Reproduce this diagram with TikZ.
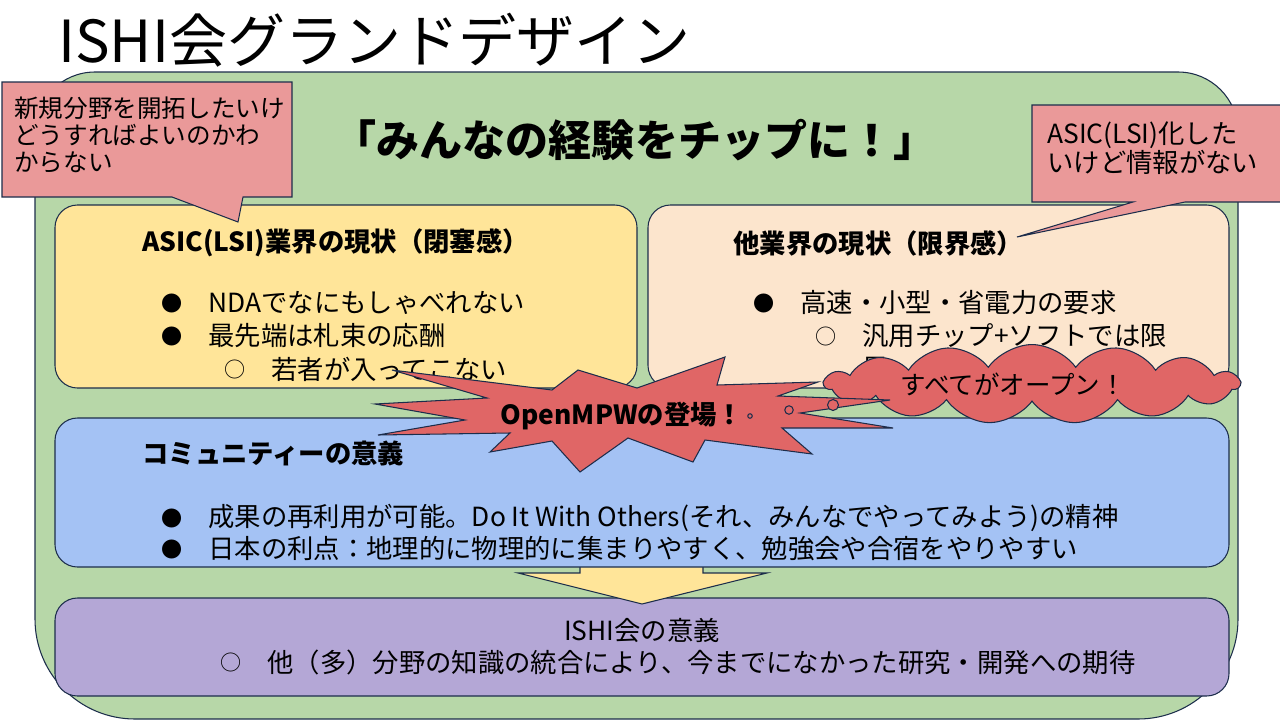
\documentclass[tikz,border=0pt]{standalone}
\usepackage{fontspec}
\setmainfont{Noto Sans CJK JP}
\usetikzlibrary{shapes.symbols,positioning}
\definecolor{slidegreen}{RGB}{183,215,168}
\definecolor{sunyellow}{RGB}{255,229,153}
\definecolor{peach}{RGB}{252,229,205}
\definecolor{skyblue}{RGB}{164,194,244}
\definecolor{lavender}{RGB}{180,167,214}
\definecolor{pinkred}{RGB}{234,153,153}
\definecolor{blastred}{RGB}{224,102,102}
\definecolor{navyline}{RGB}{28,45,75}
\newcommand{\bodysize}{\fontsize{15}{18}\selectfont}
\newcommand{\itemrow}[5]{\node[markglyph] (#1-m) at (#3,#4) {#2};
  \node[bodytext] (#1) at (#3+36,#4) {#5};}
\tikzset{
  panel/.style={draw=navyline,line width=0.6pt,rounded corners=0.45cm},
  callout/.style={draw=navyline,line width=0.6pt,fill=pinkred},
  blast/.style={draw=navyline,line width=0.6pt,fill=blastred},
  bodytext/.style={anchor=west,inner sep=0pt,font=\bodysize},
  headtext/.style={anchor=west,inner sep=0pt,font=\bodysize\bfseries},
  markglyph/.style={inner sep=0pt,font=\fontsize{12}{14}\selectfont},
}

\begin{document}
\begin{tikzpicture}[x=0.02cm,y=-0.02cm]
\useasboundingbox (0,0) rectangle (1280,720);
\fill[white] (0,0) rectangle (1280,720);
\node[anchor=west,inner sep=0pt,font=\fontsize{33}{36}\selectfont] (title) at (58,40) {ISHI会グランドデザイン};
% green base
\draw[draw=navyline,line width=0.6pt,fill=slidegreen] (35,400) [rounded corners=1.2cm] -- (35,72) -- (1238,72) -- (1238,400)
  [rounded corners=2cm] -- (1238,719) -- (35,719) -- cycle;
\node[anchor=center,inner sep=0pt,font=\fontsize{24.5}{28}\selectfont\bfseries] (motto) at (635,140) {「みんなの経験をチップに！」};
% current state panels
\draw[panel,fill=sunyellow] (55,205) rectangle (637,388);
\node[headtext] (asic) at (142,243) {ASIC(LSI)業界の現状（閉塞感）};
\itemrow{nda}{●}{172}{303}{NDAでなにもしゃべれない}
\itemrow{money}{●}{172}{336}{最先端は札束の応酬}
\itemrow{young}{○}{235}{369}{若者が入ってこない}
\draw[panel,fill=peach] (648,205) rectangle (1229,388);
\node[headtext] (other) at (733,243) {他業界の現状（限界感）};
\itemrow{speed}{●}{764}{303}{高速・小型・省電力の要求}
\itemrow{chip}{○}{826}{336}{汎用チップ+ソフトでは限}
\node[bodytext] (limit) at (862,369) {界};
% ISHI panel and arrow
\draw[panel,fill=lavender] (55,598) rectangle (1229,696);
\node[bodytext,anchor=center] (ishi) at (642,630) {ISHI会の意義};
\itemrow{fusion}{○}{231}{662}{他（多）分野の知識の統合により、今までになかった研究・開発への期待}
\draw[draw=navyline,line width=0.6pt,fill=sunyellow] (580,560) -- (703,560) -- (703,573) -- (767,573)
  -- (642,604) -- (518,573) -- (580,573) -- cycle;
% community panel
\draw[panel,fill=skyblue] (55,418) rectangle (1229,567);
\node[headtext] (comm) at (142,453) {コミュニティーの意義};
\itemrow{reuse}{●}{172}{518}{成果の再利用が可能。Do It With Others(それ、みんなでやってみよう)の精神}
\itemrow{japan}{●}{172}{549}{日本の利点：地理的に物理的に集まりやすく、勉強会や合宿をやりやすい}
% callouts
\draw[callout] (2,82) -- (292,82) -- (292,197) -- (243,197) -- (238,222) -- (172,197) -- (2,197) -- cycle;
\node[anchor=west,inner sep=0pt,align=left,font=\fontsize{14}{15.5}\selectfont] (newfield) at (14,135)
  {新規分野を開拓したいけ\\どうすればよいのかわ\\からない};
\draw[callout] (1032,105) -- (1282,105) -- (1282,202) -- (1185,202) -- (1017,237) -- (1133,202) -- (1032,202) -- cycle;
\node[anchor=west,inner sep=0pt,align=left,font=\fontsize{15}{16.5}\selectfont] (noinfo) at (1047,148)
  {ASIC(LSI)化した\\いけど情報がない};
% open everything
\node[blast,shape=cloud,cloud puffs=15,cloud puff arc=110,aspect=7,minimum width=8.3cm,minimum height=1.15cm,
  inner sep=0pt,font=\fontsize{14.5}{16}\selectfont] (open) at (1032,384) {\phantom{すべてがオープン！}};
\node[inner sep=0pt,font=\fontsize{14.5}{16}\selectfont] (opentext) at (1013,384) {すべてがオープン！};
\draw[blast] (578,370) -- (637,388) -- (725,357) -- (717,385) -- (818,382) -- (778,396) -- (890,400) -- (800,413)
  -- (893,428) -- (782,428) -- (812,454) -- (705,440) -- (693,462) -- (628,438) -- (580,472) -- (552,441)
  -- (490,452) -- (510,433) -- (378,435) -- (465,420) -- (375,404) -- (487,398) -- (392,370) -- (552,390) -- cycle;
\node[inner sep=0pt,font=\fontsize{15}{18}\selectfont\bfseries] (mpw) at (622,416) {OpenMPWの登場！};
\draw[blast] (750,416) circle (0.045cm);
\draw[blast] (789,410) circle (0.085cm);
\draw[blast] (833,405) circle (0.11cm);
\end{tikzpicture}
\end{document}
